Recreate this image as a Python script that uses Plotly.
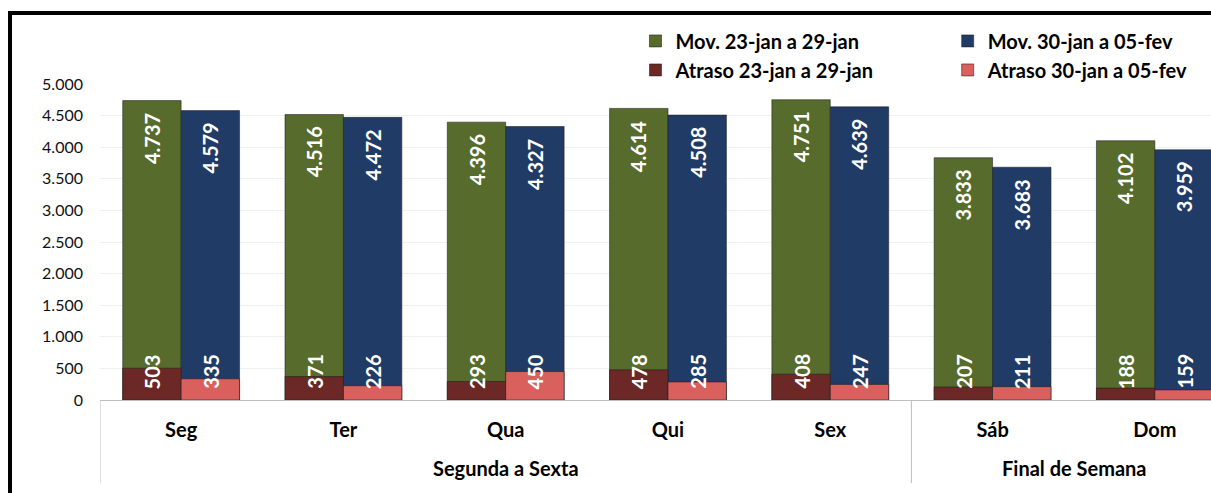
import plotly.graph_objects as go

categories = ["Seg", "Ter", "Qua", "Qui", "Sex", "Sáb", "Dom"]
groups = ["Segunda a Sexta", "Final de Semana"]
group_spans = [(0, 4), (5, 6)]
mov_23 = [4737, 4516, 4396, 4614, 4751, 3833, 4102]
mov_30 = [4579, 4472, 4327, 4508, 4639, 3683, 3959]
atraso_23 = [503, 371, 293, 478, 408, 207, 188]
atraso_30 = [335, 226, 450, 285, 247, 211, 159]
y_ticks = [0, 500, 1000, 1500, 2000, 2500, 3000, 3500, 4000, 4500, 5000]

names = ["Mov. 23-jan a 29-jan", "Mov. 30-jan a 05-fev",
         "Atraso 23-jan a 29-jan", "Atraso 30-jan a 05-fev"]
colors = ["#566b2c", "#1f3b66", "#6b2826", "#d9605c"]

FONT = "Lato"
W = 0.36
xs = list(range(len(categories)))

def fmt(v):
    return f"{v:,}".replace(",", ".")

fig = go.Figure()
series = [(mov_23, -W, "legend"), (mov_30, 0, "legend2"),
          (atraso_23, -W, "legend"), (atraso_30, 0, "legend2")]
for i, (vals, off, lg) in enumerate(series):
    fig.add_trace(go.Bar(
        x=xs, y=vals, name=names[i], width=W, offset=off,
        marker=dict(color=colors[i], line=dict(color="rgba(30,30,30,0.55)", width=1)),
        legend=lg, legendgroup=names[i], hoverinfo="skip",
    ))

annotations = []
for vals, off in [(mov_23, -W), (mov_30, 0)]:
    for i, v in enumerate(vals):
        annotations.append(dict(
            x=i + off + W / 2, y=v, xref="x", yref="y", text=fmt(v),
            textangle=-90, showarrow=False, yanchor="top", yshift=-10,
            font=dict(family=FONT, size=20, color="white", weight="bold")))
for vals, off in [(atraso_23, -W), (atraso_30, 0)]:
    for i, v in enumerate(vals):
        annotations.append(dict(
            x=i + off + W / 2, y=0, xref="x", yref="y", text=fmt(v),
            textangle=-90, showarrow=False, yanchor="bottom", yshift=9,
            font=dict(family=FONT, size=20, color="white", weight="bold")))

for g, (a, b) in zip(groups, group_spans):
    annotations.append(dict(
        x=(a + b) / 2, y=-0.215, xref="x", yref="paper", text=g,
        showarrow=False, yanchor="middle",
        font=dict(family=FONT, size=20, color="black", weight="bold")))

shapes = []
for xb in [-0.5, 4.5]:
    shapes.append(dict(type="line", xref="x", yref="paper", x0=xb, x1=xb,
                       y0=0, y1=-0.263, line=dict(color="#bfbfbf", width=1)))
shapes.append(dict(type="rect", xref="paper", yref="paper",
                   x0=-0.081, x1=1.1, y0=-0.5, y1=1.2247,
                   line=dict(color="black", width=4)))

fig.update_layout(
    width=1211, height=493,
    margin=dict(l=100, r=0, t=84, b=93),
    paper_bgcolor="white", plot_bgcolor="white",
    barmode="overlay", separators=",.",
    font=dict(family=FONT, color="#1a1a1a"),
    xaxis=dict(range=[-0.5, 6.346], tickvals=xs, ticktext=categories,
               showgrid=False, showline=True, linecolor="#bfbfbf", linewidth=1,
               ticks="", ticklabelstandoff=12,
               tickfont=dict(family=FONT, size=20, color="black", weight="bold"),
               zeroline=False),
    yaxis=dict(range=[0, 5000], tickvals=y_ticks, tickformat=",d",
               showgrid=True, gridcolor="#f0f0f0", zeroline=False,
               ticks="", ticklabelstandoff=16,
               tickfont=dict(family=FONT, size=16, color="#111111")),
    legend=dict(x=0.482, y=1.198, xanchor="left", yanchor="top",
                traceorder="grouped", tracegroupgap=0, bgcolor="rgba(0,0,0,0)",
                font=dict(family=FONT, size=20, color="black", weight="bold")),
    legend2=dict(x=0.763, y=1.198, xanchor="left", yanchor="top",
                 traceorder="grouped", tracegroupgap=0, bgcolor="rgba(0,0,0,0)",
                 font=dict(family=FONT, size=20, color="black", weight="bold")),
    showlegend=True,
    annotations=annotations, shapes=shapes,
)

fig.write_html("out.html")
